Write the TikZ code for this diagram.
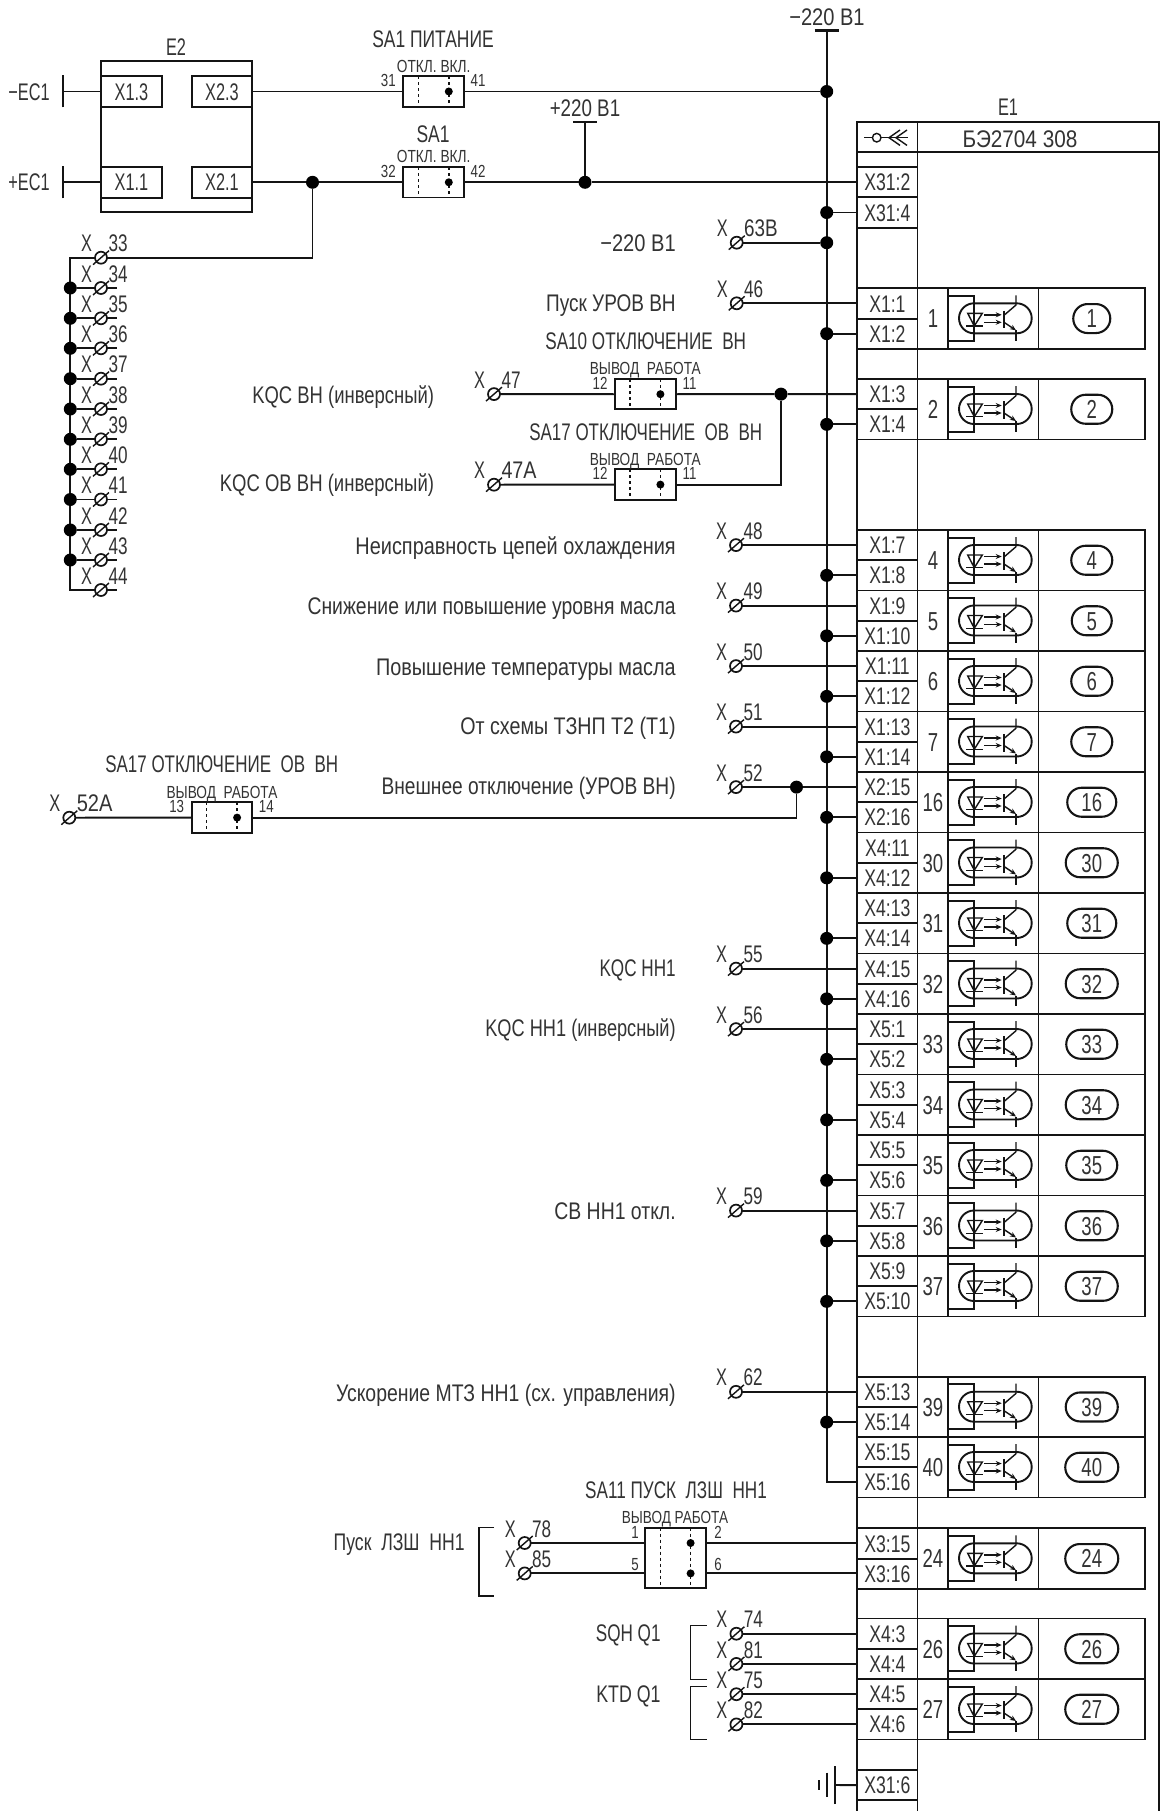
\documentclass[tikz,border=0pt]{standalone}
\usepackage{fontspec}
\setmainfont[FakeStretch=0.68]{Liberation Sans}
\usetikzlibrary{arrows.meta,calc}
\definecolor{ink}{gray}{0.08}
\definecolor{tink}{gray}{0.2}
\newcommand{\sx}[2]{\scalebox{#1}[1]{#2}}
\tikzset{
  wire/.style={line width=1.9pt,draw=ink},
  thinw/.style={line width=1.4pt,draw=ink},
  txt/.style={font=\fontsize{24}{26}\selectfont,text=tink,inner sep=0pt,outer sep=0pt,text height=17.2pt,text depth=0pt},
  modtxt/.style={font=\fontsize{26}{28}\selectfont,text=tink,inner sep=0pt,outer sep=0pt,text height=18.6pt,text depth=0pt},
  smalltxt/.style={font=\fontsize{17.5}{19}\selectfont,text=tink,inner sep=0pt,outer sep=0pt,text height=12.5pt,text depth=0pt},
  pinbox/.style={txt,draw=ink,line width=1.9pt,minimum width=60.2pt,minimum height=30.25pt,anchor=north west},
  cellbox/.style={modtxt,draw=ink,line width=1.9pt,minimum height=60.5pt,anchor=north west},
  pill/.style={modtxt,draw=ink,line width=2.1pt,minimum height=29pt,rounded corners=14.4pt},
  jdot/.style={circle,fill=black,draw=none,minimum size=13pt,inner sep=0pt,outer sep=0pt},
  swdot/.style={circle,fill=black,draw=none,minimum size=8pt,inner sep=0pt,outer sep=0pt},
  termc/.style={circle,draw=ink,line width=1.7pt,minimum size=12pt,inner sep=0pt,outer sep=0pt},
  swbox/.style={draw=ink,line width=1.9pt,minimum width=60.6pt,minimum height=30.4pt,inner sep=0pt,outer sep=0pt,anchor=north west},
  swdash/.style={line width=1.5pt,draw=ink,dash pattern=on 3pt off 3pt},
  ebox/.style={txt,draw=ink,line width=1.9pt,minimum width=60.5pt,minimum height=31pt},
}
% terminal: name, x, y, number
\newcommand{\term}[4]{%
  \node[termc] (t#1) at (#2,#3) {};
  \draw[thinw] ([shift={(-8,7)}]t#1.center) -- ([shift={(8,-7)}]t#1.center);
  \node[txt] (tx#1) at ([shift={(-14.5,-14.5)}]t#1.center) {X};
  \node[txt,anchor=west] (tn#1) at ([shift={(7.5,-14.5)}]t#1.center) {\sx{1.05}{#4}};
}
% switch: name, left x, top y, left no, right no, caption
\newcommand{\sw}[6]{%
  \node[swbox] (s#1) at (#2,#3) {};
  \draw[swdash] ([xshift=15pt]s#1.north west) -- ([xshift=15pt]s#1.south west);
  \draw[swdash] ([xshift=45.4pt]s#1.north west) -- ([xshift=45.4pt]s#1.south west);
  \node[swdot] (sd#1) at ([xshift=45.4pt]s#1.west) {};
  \node[smalltxt] (sl#1) at ([shift={(-15,-11)}]s#1.west) {\sx{1.12}{#4}};
  \node[smalltxt] (sr#1) at ([shift={(14,-11)}]s#1.east) {\sx{1.12}{#5}};
  \node[smalltxt] (sc#1) at ([yshift=10.5pt]s#1.north) {\sx{1.15}{#6}};
}
% module: name, top y, number, pill width, pin1 name, pin1 label, pin2 name, pin2 label
\newcommand{\optomod}[8]{%
  \node[pinbox] (#5) at (857.3,#2) {\sx{1.08}{#6}};
  \node[pinbox] (#7) at (857.3,#2+30.25) {\sx{1.08}{#8}};
  \node[cellbox,minimum width=30.8pt] (nc#1) at (917.5,#2) {\sx{1.05}{#3}};
  \node[cellbox,minimum width=90.2pt] (oc#1) at (948.3,#2) {};
  \node[cellbox,minimum width=106.5pt] (lc#1) at (1038.5,#2) {};
  \node[pill,minimum width=#4pt] (pl#1) at (lc#1.center) {\sx{1.05}{#3}};
  \begin{scope}[shift={(0,#2)}]
    \draw[wire] (948.3,7.7) -- (974.3,7.7) -- (974.3,52.7) -- (948.3,52.7);
    \draw[wire] (974.3,15) -- (1016.7,15) arc[start angle=90,end angle=-90,radius=15pt] -- (974,45) arc[start angle=-90,end angle=-270,radius=15pt];
    \draw[thinw] (967.7,25) -- (982.3,25) -- (974.3,37.7) -- cycle;
    \draw[thinw] (966,37.7) -- (982.7,37.7);
    \draw[thinw,-{Stealth[length=6pt,width=5pt]}] (984,26.5) -- (1001.7,26.5);
    \draw[thinw,-{Stealth[length=6pt,width=5pt]}] (984,34) -- (1001.7,34);
    \draw[wire] (1004,22.3) -- (1004,40);
    \draw[thinw] (1004,27) -- (1016,16.7) -- (1016,7);
    \draw[thinw,-{Stealth[length=6pt,width=5pt]}] (1004,34) -- (1016,42);
    \draw[thinw] (1016,42) -- (1016,52.7);
  \end{scope}
}
\newcommand{\lbl}[5]{\node[txt,anchor=east] (#1) at (#2,#3) {\sx{#4}{#5}};}
\newcommand{\ctr}[5]{\node[txt] (#1) at (#2,#3) {\sx{#4}{#5}};}
% bus junction for pin
\newcommand{\bd}[1]{%
  \node[jdot] (j#1) at (bustop |- #1.west) {};
  \draw[wire] (j#1) -- (#1.west);
}
\begin{document}
\begin{tikzpicture}[x=1pt,y=-1pt]
\useasboundingbox (0,0) rectangle (1161,1811);
\fill[white] (0,0) rectangle (1161,1811);

% ----- E1 frame
\draw[wire] (857.3,1811) -- (857.3,122) -- (1159.3,122) -- (1159.3,1811);
\draw[wire] (917.5,122) -- (917.5,1811);
\draw[wire] (857.3,151.7) -- (1159.3,151.7);
\ctr{e1}{1008}{106.5}{1}{E1}
\ctr{e1t}{1020}{139}{1.27}{БЭ2704 308}
\draw[thinw] (864,137.7) -- (872.4,137.7);
\draw[thinw] (876.7,137.7) circle[radius=4.3pt];
\draw[thinw] (881,137.7) -- (907.7,137.7);
\draw[thinw] (900,130) -- (889,137.7) -- (900,145.4);
\draw[thinw] (907,130) -- (896,137.7) -- (907,145.4);

\node[pinbox] (pA) at (857.3,167.2) {\sx{1.08}{X31:2}};
\node[pinbox] (pB) at (857.3,197.4) {\sx{1.08}{X31:4}};
\node[pinbox] (pZ) at (857.3,1770) {\sx{1.08}{X31:6}};

\optomod{m1}{288.3}{1}{37}{pC}{X1:1}{pD}{X1:2}
\optomod{m2}{379}{2}{41}{pE}{X1:3}{pF}{X1:4}
\optomod{m4}{530}{4}{41}{pG}{X1:7}{pH}{X1:8}
\optomod{m5}{590.5}{5}{40}{pI}{X1:9}{pJ}{X1:10}
\optomod{m6}{651}{6}{41}{pK}{X1:11}{pL}{X1:12}
\optomod{m7}{711.5}{7}{41}{pM}{X1:13}{pN}{X1:14}
\optomod{m16}{772}{16}{49}{pO}{X2:15}{pP}{X2:16}
\optomod{m30}{832.5}{30}{52}{pQ}{X4:11}{pR}{X4:12}
\optomod{m31}{893}{31}{49}{pS}{X4:13}{pT}{X4:14}
\optomod{m32}{953.5}{32}{52}{pU}{X4:15}{pV}{X4:16}
\optomod{m33}{1014}{33}{51}{pW}{X5:1}{pX}{X5:2}
\optomod{m34}{1074.5}{34}{52}{pY}{X5:3}{pa}{X5:4}
\optomod{m35}{1135}{35}{51}{pb}{X5:5}{pc}{X5:6}
\optomod{m36}{1195.5}{36}{52}{pd}{X5:7}{pe}{X5:8}
\optomod{m37}{1256}{37}{52}{pf}{X5:9}{pg}{X5:10}
\optomod{m39}{1376.7}{39}{52}{ph}{X5:13}{pi}{X5:14}
\optomod{m40}{1437}{40}{53}{pj}{X5:15}{pk}{X5:16}
\optomod{m24}{1528.3}{24}{53}{pl}{X3:15}{pm}{X3:16}
\optomod{m26}{1618.5}{26}{53}{pn}{X4:3}{po}{X4:4}
\optomod{m27}{1679}{27}{53}{pp}{X4:5}{pq}{X4:6}

% ----- main bus
\coordinate (bustop) at (826.7,30.7);
\node[inner sep=0pt,minimum size=0pt] (busend) at (bustop |- pk.west) {};
\draw[wire] (bustop) -- (busend.center) -- (pk.west);
\draw[line width=2.4pt,draw=ink] ([xshift=-12pt]bustop) -- ([xshift=12pt]bustop);
\ctr{lm}{827}{16.5}{1.23}{−220 В1}

\foreach \p in {pB,pD,pF,pH,pJ,pL,pN,pP,pR,pT,pV,pX,pa,pc,pe,pg,pi} {\bd{\p}}

% ----- E2
\node[draw=ink,line width=1.9pt,minimum width=151pt,minimum height=151pt,inner sep=0pt,outer sep=0pt,anchor=north west] (E2) at (101,61) {};
\ctr{e2}{176}{46.5}{1}{E2}
\node[ebox] (e13) at (131.5,91.5) {X1.3};
\node[ebox] (e23) at (222,91.5) {X2.3};
\node[ebox] (e11) at (131.5,182.3) {X1.1};
\node[ebox] (e21) at (222,182.3) {X2.1};
\coordinate (ecm) at (63.2,91.5);
\coordinate (ecp) at (63.2,182.3);
\draw[wire] (ecm) -- (e13.west);
\draw[wire] (ecp) -- (e11.west);
\draw[wire] ([yshift=-16pt]ecm) -- ([yshift=16pt]ecm);
\draw[wire] ([yshift=-16pt]ecp) -- ([yshift=16pt]ecp);
\ctr{lecm}{29}{91.5}{1}{−EC1}
\ctr{lecp}{29}{182.3}{1}{+EC1}

% ----- SA1 switches
\sw{a}{403.4}{76.3}{31}{41}{ОТКЛ. ВКЛ.}
\sw{b}{403.4}{167.1}{32}{42}{ОТКЛ. ВКЛ.}
\ctr{ca}{433}{39}{1.07}{SA1 ПИТАНИЕ}
\ctr{cb}{433}{134}{1.07}{SA1}
\node[jdot] (jm) at (bustop |- sa.east) {};
\node[jdot] (j1) at (312.5,182.3) {};
\coordinate (jp) at (585,122);
\node[jdot] (jq) at (jp |- sb.east) {};
\draw[wire] (e23.east) -- (sa.west);
\draw[wire] (sa.east) -- (jm);
\draw[wire] (e21.east) -- (j1) -- (sb.west);
\draw[wire] (sb.east) -- (jq) -- (jq -| pA.west);
\draw[wire] (jq) -- (jp);
\draw[line width=2.4pt,draw=ink] ([xshift=-12pt]jp) -- ([xshift=12pt]jp);
\ctr{lp}{585}{108}{1.15}{+220 В1}

% ----- left terminal column
\term{33}{101}{257.7}{33}
\term{34}{101}{288}{34}
\term{35}{101}{318.3}{35}
\term{36}{101}{348.3}{36}
\term{37}{101}{378.7}{37}
\term{38}{101}{409}{38}
\term{39}{101}{439.3}{39}
\term{40}{101}{469.3}{40}
\term{41}{101}{499.5}{41}
\term{42}{101}{530}{42}
\term{43}{101}{560}{43}
\term{44}{101}{590}{44}
\coordinate (colx) at (70.3,257.7);
\draw[wire] (t33.east) -| (j1);
\draw[wire] (t33.west) -- (colx) -- (colx |- t44.west) -- (t44.west);
\foreach \n in {34,35,36,37,38,39,40,41,42,43} {
  \node[jdot] (jc\n) at (colx |- t\n.west) {};
  \draw[wire] (jc\n) -- (t\n.west);
  \draw[wire] (t\n.east) -- ([xshift=16pt]t\n.center);
}
\draw[wire] (t44.east) -- ([xshift=16pt]t44.center);

% ----- terminals to E1
\term{63}{736.7}{242.7}{\sx{1.1}{63В}}
\node[jdot] (j63) at (bustop |- t63.east) {};
\draw[wire] (t63.east) -- (j63);
\lbl{l63}{675.7}{242.5}{1.23}{−220 В1}

\term{46}{736.7}{303.3}{46}
\draw[wire] (t46.east) -- (t46 -| pC.west);
\lbl{l46}{675.7}{302.7}{1.165}{Пуск УРОВ ВН}

\term{47}{494}{394.1}{47}
\sw{c}{615}{379}{12}{11}{ВЫВОД\ \ РАБОТА}
\ctr{cc}{645.7}{341}{1.05}{SA10 ОТКЛЮЧЕНИЕ\ \ ВН}
\node[jdot] (j47) at (781,394.1) {};
\draw[wire] (t47.east) -- (sc.west);
\draw[wire] (sc.east) -- (j47) -- (j47 -| pE.west);
\lbl{l47}{434}{394.5}{1.13}{KQC ВН (инверсный)}

\term{47a}{494}{484.7}{\sx{1.15}{47А}}
\sw{d}{615}{469.4}{12}{11}{ВЫВОД\ \ РАБОТА}
\ctr{cd}{645.7}{432}{1.04}{SA17 ОТКЛЮЧЕНИЕ\ \ ОВ\ \ ВН}
\draw[wire] (t47a.east) -- (sd.west);
\draw[wire] (sd.east) -| (j47);
\lbl{l47a}{434}{483}{1.134}{KQC ОВ ВН (инверсный)}

\term{48}{736}{545.1}{48}
\draw[wire] (t48.east) -- (t48 -| pG.west);
\lbl{l48}{675.7}{546}{1.22}{Неисправность цепей охлаждения}
\term{49}{736}{605.6}{49}
\draw[wire] (t49.east) -- (t49 -| pI.west);
\lbl{l49}{675.7}{606}{1.186}{Снижение или повышение уровня масла}
\term{50}{736}{666.1}{50}
\draw[wire] (t50.east) -- (t50 -| pK.west);
\lbl{l50}{675.7}{667}{1.216}{Повышение температуры масла}
\term{51}{736}{726.6}{51}
\draw[wire] (t51.east) -- (t51 -| pM.west);
\lbl{l51}{675.7}{726}{1.206}{От схемы ТЗНП Т2 (Т1)}
\term{52}{736}{787.1}{52}
\node[jdot] (j52) at (796.5,787.1) {};
\draw[wire] (t52.east) -- (j52) -- (j52 -| pO.west);
\lbl{l52}{675.7}{786}{1.174}{Внешнее отключение (УРОВ ВН)}

\term{52a}{69.3}{817.7}{\sx{1.17}{52А}}
\sw{e}{191.7}{802.4}{13}{14}{ВЫВОД\ \ РАБОТА}
\ctr{ce}{221.7}{764.3}{1.04}{SA17 ОТКЛЮЧЕНИЕ\ \ ОВ\ \ ВН}
\draw[wire] (t52a.east) -- (se.west);
\draw[wire] (se.east) -| (j52);

\term{55}{736}{968.6}{55}
\draw[wire] (t55.east) -- (t55 -| pU.west);
\lbl{l55}{675.7}{968}{1.05}{KQC НН1}
\term{56}{736}{1029.1}{56}
\draw[wire] (t56.east) -- (t56 -| pW.west);
\lbl{l56}{675.7}{1028}{1.115}{KQC НН1 (инверсный)}
\term{59}{736}{1210.6}{59}
\draw[wire] (t59.east) -- (t59 -| pd.west);
\lbl{l59}{675.7}{1211}{1.19}{СВ НН1 откл.}
\term{62}{736}{1391.8}{62}
\draw[wire] (t62.east) -- (t62 -| ph.west);
\lbl{l62}{675.7}{1393}{1.19}{Ускорение МТЗ НН1 (сх. управления)}

% ----- SA11
\term{78}{524.7}{1543}{78}
\term{85}{524.7}{1573.4}{85}
\node[draw=ink,line width=1.9pt,minimum width=60.6pt,minimum height=60.6pt,inner sep=0pt,outer sep=0pt,anchor=north west] (sf) at (645.3,1527.7) {};
\draw[swdash] ([xshift=15.3pt]sf.north west) -- ([xshift=15.3pt]sf.south west);
\draw[swdash] ([xshift=45.3pt]sf.north west) -- ([xshift=45.3pt]sf.south west);
\node[swdot] (sf1) at (690.6,1543) {};
\node[swdot] (sf2) at (690.6,1573.4) {};
\node[smalltxt] (sfa) at (635,1532.7) {\sx{1.12}{1}};
\node[smalltxt] (sfb) at (718,1532.7) {\sx{1.12}{2}};
\node[smalltxt] (sfc) at (635,1564) {\sx{1.12}{5}};
\node[smalltxt] (sfd) at (718,1564) {\sx{1.12}{6}};
\node[smalltxt] (sfe) at (675,1517.7) {\sx{1.14}{ВЫВОД РАБОТА}};
\ctr{cf}{676}{1490}{1.05}{SA11 ПУСК\ \ ЛЗШ\ \ НН1}
\draw[wire] (t78.east) -- (t78 -| sf.west);
\draw[wire] (t85.east) -- (t85 -| sf.west);
\draw[wire] (t78 -| sf.east) -- (t78 -| pl.west);
\draw[wire] (t85 -| sf.east) -- (t85 -| pm.west);
\lbl{lf}{464.7}{1542}{1.08}{Пуск\ \ ЛЗШ\ \ НН1}
\coordinate (bf1) at (494,1527.7);
\coordinate (bf2) at (494,1596);
\draw[thinw] (bf1) -- (478.8,1527.7) -- (478.8,1596) -- (bf2);

% ----- SQH / KTD
\term{74}{736.4}{1633.7}{74}
\term{81}{736.4}{1663.9}{81}
\term{75}{736.4}{1694.2}{75}
\term{82}{736.4}{1724.4}{82}
\draw[wire] (t74.east) -- (t74 -| pn.west);
\draw[wire] (t81.east) -- (t81 -| po.west);
\draw[wire] (t75.east) -- (t75 -| pp.west);
\draw[wire] (t82.east) -- (t82 -| pq.west);
\lbl{lq}{660.6}{1633}{1.05}{SQH Q1}
\lbl{lk}{660.6}{1694}{1.09}{KTD Q1}
\coordinate (bq1) at (706.5,1625.7);
\coordinate (bq2) at (706.5,1679.3);
\draw[thinw] (bq1) -- (690.5,1625.7) -- (690.5,1679.3) -- (bq2);
\coordinate (bk1) at (706.5,1686.7);
\coordinate (bk2) at (706.5,1739.3);
\draw[thinw] (bk1) -- (690.5,1686.7) -- (690.5,1739.3) -- (bk2);

% ----- earth
\coordinate (gnd) at (834.7,1785);
\draw[wire] (gnd) -- (pZ.west);
\draw[wire] ([yshift=-19pt]gnd) -- ([yshift=19pt]gnd);
\draw[wire] (827,1772.7) -- (827,1796.7);
\draw[wire] (818.7,1780) -- (818.7,1790);
\end{tikzpicture}
\end{document}
